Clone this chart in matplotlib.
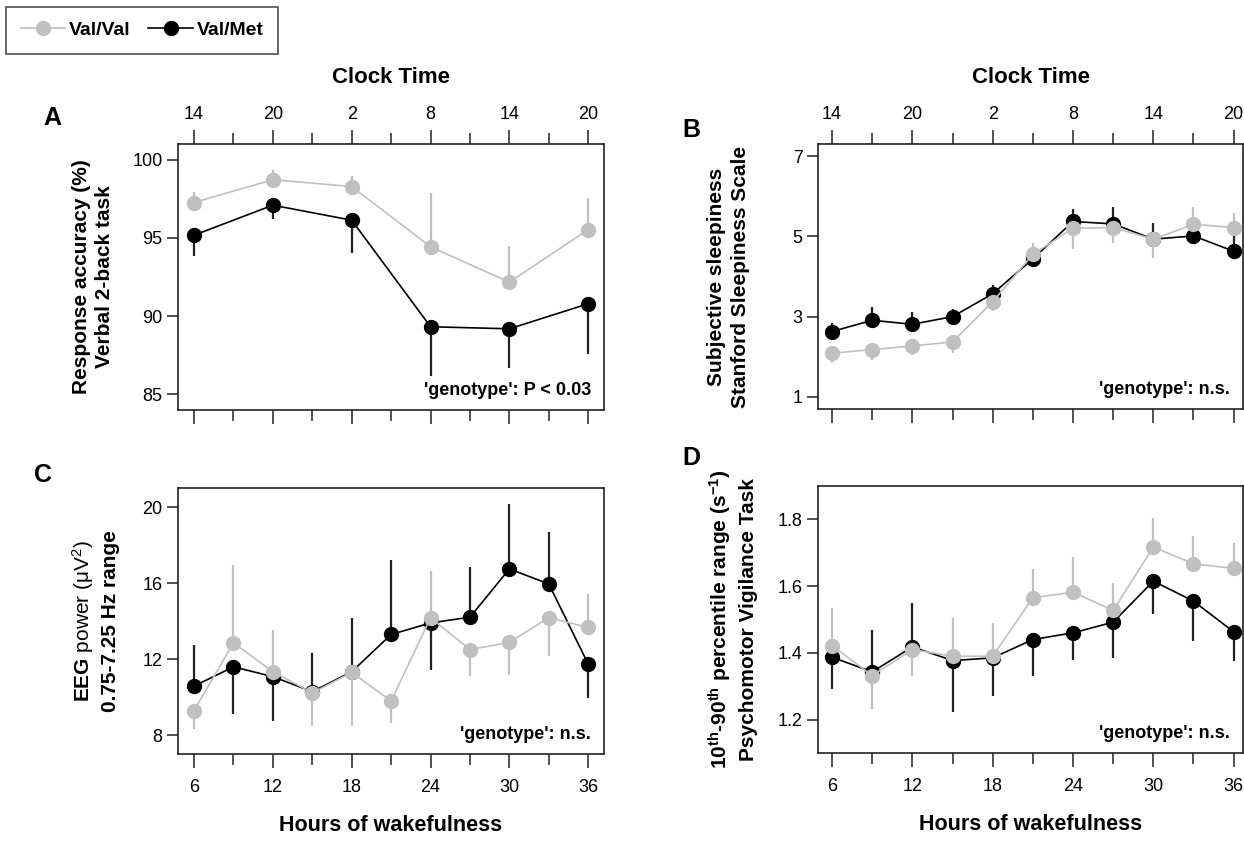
import numpy as np
import matplotlib
matplotlib.use("Agg")
import matplotlib.pyplot as plt
import matplotlib.font_manager as fm
from matplotlib.lines import Line2D

# ---------------- data ----------------
hours = [6, 9, 12, 15, 18, 21, 24, 27, 30, 33, 36]
hours_a = [6, 12, 18, 24, 30, 36]
clock_ticks = [6, 12, 18, 24, 30, 36]
clock_labels = ["14", "20", "2", "8", "14", "20"]
hour_labels = ["6", "12", "18", "24", "30", "36"]

# Panel A: response accuracy (%)
a_valval = [97.26, 98.72, 98.28, 94.43, 92.17, 95.53]
a_valval_end = [97.94, 99.36, 98.94, 97.87, 94.47, 97.53]
a_valmet = [95.17, 97.09, 96.13, 89.32, 89.19, 90.79]
a_valmet_end = [93.85, 96.21, 94.04, 86.19, 86.68, 87.55]

# Panel B: Stanford Sleepiness Scale
b_valval = [2.09, 2.18, 2.27, 2.37, 3.37, 4.55, 5.20, 5.22, 4.93, 5.30, 5.22]
b_valval_end = [1.85, 1.91, 2.04, 2.10, 3.14, 4.84, 4.69, 4.84, 4.47, 5.74, 5.59]
b_valmet = [2.63, 2.91, 2.81, 3.00, 3.57, 4.44, 5.37, 5.31, 4.93, 5.01, 4.63]
b_valmet_end = [2.83, 3.24, 3.12, 3.18, 3.80, 4.26, 5.69, 5.72, 5.34, 5.20, 5.01]

# Panel C: EEG power
c_valval = [9.28, 12.85, 11.33, 10.22, 11.29, 9.79, 14.17, 12.50, 12.87, 14.18, 13.66]
c_valval_end = [8.30, 16.93, 13.55, 8.49, 8.47, 8.61, 16.62, 11.12, 11.18, 12.15, 15.41]
c_valmet = [10.57, 11.59, 11.07, 10.28, 11.33, 13.29, 13.90, 14.20, 16.74, 15.95, 11.73]
c_valmet_end = [12.73, 9.12, 8.74, 12.31, 14.15, 17.23, 11.42, 16.83, 20.16, 18.67, 9.96]

# Panel D: PVT 10th-90th percentile range
d_valval = [1.422, 1.332, 1.410, 1.390, 1.390, 1.565, 1.582, 1.527, 1.717, 1.667, 1.653]
d_valval_end = [1.533, 1.233, 1.330, 1.503, 1.490, 1.652, 1.687, 1.608, 1.805, 1.750, 1.730]
d_valmet = [1.387, 1.343, 1.418, 1.377, 1.385, 1.440, 1.460, 1.492, 1.615, 1.555, 1.463]
d_valmet_end = [1.292, 1.470, 1.550, 1.223, 1.270, 1.330, 1.379, 1.385, 1.517, 1.435, 1.377]

series_names = ["Val/Val", "Val/Met"]
GREY = "#c0c0c0"
BLACK = "#000000"

# ---------------- fonts ----------------
names = {f.name for f in fm.fontManager.ttflist}
narrow = "Liberation Sans Narrow" if "Liberation Sans Narrow" in names else "Liberation Sans"
plt.rcParams["font.family"] = [narrow, "Liberation Sans", "DejaVu Sans"]
plt.rcParams["mathtext.fontset"] = "custom"
plt.rcParams["mathtext.rm"] = narrow
plt.rcParams["mathtext.bf"] = narrow + ":bold"
plt.rcParams["mathtext.it"] = narrow + ":italic"

W, H = 1244, 843
fig = plt.figure(figsize=(W / 100, H / 100), dpi=100)


def px_axes(left, right, top, bottom):
    return fig.add_axes([left / W, 1 - bottom / H, (right - left) / W, (bottom - top) / H])


def yerr_from(vals, ends):
    v = np.asarray(vals)
    e = np.asarray(ends)
    lo = np.where(e < v, v - e, 0)
    hi = np.where(e > v, e - v, 0)
    return [lo, hi]


def draw(ax, x, vv, vv_end, vm, vm_end):
    ax.errorbar(x, vm, yerr=yerr_from(vm, vm_end), fmt="none", ecolor="#222222",
                elinewidth=1.6, capsize=0, zorder=2)
    ax.plot(x, vm, color=BLACK, lw=1.2, marker="o", ms=10, mfc=BLACK, mec=BLACK, zorder=3)
    ax.errorbar(x, vv, yerr=yerr_from(vv, vv_end), fmt="none", ecolor=GREY,
                elinewidth=1.6, capsize=0, zorder=4)
    ax.plot(x, vv, color=GREY, lw=1.2, marker="o", ms=10, mfc=GREY, mec=GREY, zorder=5)


def style(ax, xlim, ylim, yticks, bottom_labels, top_labels):
    ax.set_xlim(*xlim)
    ax.set_ylim(*ylim)
    for s in ax.spines.values():
        s.set_linewidth(1.2)
        s.set_color("#222222")
    ax.set_yticks(yticks)
    ax.set_yticklabels([("%g" % t) for t in yticks])
    ax.tick_params(axis="y", direction="out", length=8, width=1.2, color="#333333",
                   labelsize=13, pad=3)
    ax.set_xticks(clock_ticks)
    ax.set_xticks([9, 15, 21, 27, 33], minor=True)
    if bottom_labels:
        ax.set_xticklabels(hour_labels)
    else:
        ax.set_xticklabels([])
    ax.tick_params(axis="x", which="major", direction="out", length=10, width=1.2,
                   color="#333333", labelsize=13, pad=8)
    ax.tick_params(axis="x", which="minor", direction="out", length=8, width=1.2,
                   color="#333333")
    if top_labels:
        sec = ax.secondary_xaxis("top")
        sec.set_xticks(clock_ticks)
        sec.set_xticklabels(clock_labels)
        sec.set_xticks([9, 15, 21, 27, 33], minor=True)
        sec.tick_params(axis="x", which="major", direction="out", length=10, width=1.2,
                        color="#333333", labelsize=13, pad=5)
        sec.tick_params(axis="x", which="minor", direction="out", length=8, width=1.2,
                        color="#333333")
        sec.spines["top"].set_visible(False)
        sec.set_xlabel("Clock Time", fontsize=16, fontweight="bold", labelpad=17)


axA = px_axes(178, 604, 144, 410)
axB = px_axes(818, 1243, 144, 409)
axC = px_axes(178, 604, 488, 754)
axD = px_axes(818, 1243, 486, 753)

draw(axA, hours_a, a_valval, a_valval_end, a_valmet, a_valmet_end)
draw(axB, hours, b_valval, b_valval_end, b_valmet, b_valmet_end)
draw(axC, hours, c_valval, c_valval_end, c_valmet, c_valmet_end)
draw(axD, hours, d_valval, d_valval_end, d_valmet, d_valmet_end)

style(axA, (4.78, 37.2), (84, 101), [85, 90, 95, 100], False, True)
style(axB, (4.95, 36.7), (0.7, 7.3), [1, 3, 5, 7], False, True)
style(axC, (4.78, 37.2), (7, 21), [8, 12, 16, 20], True, False)
style(axD, (4.95, 36.7), (1.1, 1.9), [1.2, 1.4, 1.6, 1.8], True, False)

for ax in (axC, axD):
    ax.set_xlabel("Hours of wakefulness", fontsize=15.5, fontweight="bold", labelpad=14)

lab_kw = dict(fontsize=15, fontweight="bold", linespacing=1.3)
axA.set_ylabel("Response accuracy (%)\nVerbal 2-back task", **lab_kw)
axA.yaxis.set_label_coords(-0.15, 0.5)
axB.set_ylabel("Subjective sleepiness\nStanford Sleepiness Scale", **lab_kw)
axB.yaxis.set_label_coords(-0.16, 0.5)
axC.set_ylabel("EEG $\\mathrm{power\\ (\\mu V^{2})}$\n0.75-7.25 Hz range", **lab_kw)
axC.yaxis.set_label_coords(-0.137, 0.5)
axD.set_ylabel("10$^{\\mathbf{th}}$-90$^{\\mathbf{th}}$ percentile range (s$^{\\mathbf{-1}}$)\nPsychomotor Vigilance Task", **lab_kw)
axD.yaxis.set_label_coords(-0.142, 0.5)

ann = ["'genotype': P < 0.03", "'genotype': n.s.", "'genotype': n.s.", "'genotype': n.s."]
for ax, t in zip((axA, axB, axC, axD), ann):
    ax.text(0.97, 0.04, t, transform=ax.transAxes, ha="right", va="bottom",
            fontsize=13, fontweight="bold")

for lbl, (xp, yp) in zip("ABCD", [(52, 118), (691, 130), (43, 475), (691, 458)]):
    fig.text(xp / W, 1 - yp / H, lbl, ha="center", va="center", fontsize=18, fontweight="bold")

handles = [Line2D([], [], color=GREY, lw=1.2, marker="o", ms=10, mfc=GREY, mec=GREY),
           Line2D([], [], color=BLACK, lw=1.2, marker="o", ms=10, mfc=BLACK, mec=BLACK)]
leg = fig.legend(handles, series_names, loc="upper left", bbox_to_anchor=(6 / W, 1 - 7 / H),
                 ncol=2, frameon=True, fancybox=False, edgecolor="#222222",
                 prop={"weight": "bold", "size": 14}, handlelength=2.3, columnspacing=0.9,
                 handletextpad=0.2, borderpad=0.75, borderaxespad=0)
leg.get_frame().set_linewidth(1.2)

fig.savefig("out.png", dpi=100)
